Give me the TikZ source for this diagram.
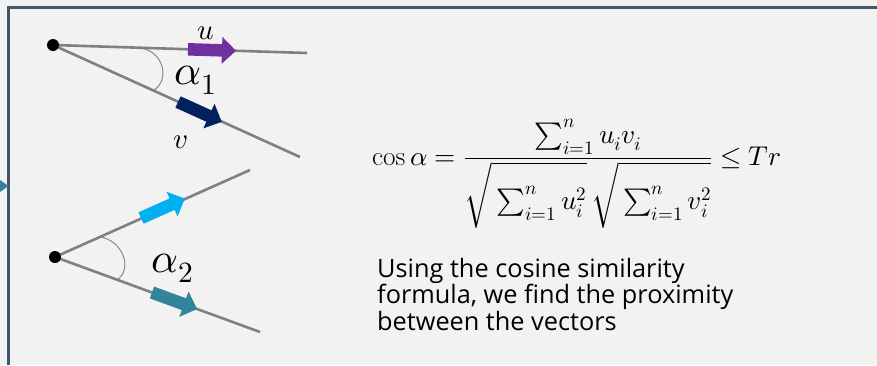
\documentclass[tikz,border=0pt]{standalone}
\usepackage{fontspec}
\usepackage{amsmath}
\usepackage{unicode-math}
\setmathfont{Latin Modern Math}
\newfontfamily\textsans{Open Sans}
\definecolor{bg}{HTML}{F2F2F2}
\definecolor{frame}{HTML}{44546A}
\definecolor{linegray}{HTML}{808080}
\definecolor{upurple}{HTML}{7030A0}
\definecolor{vnavy}{HTML}{002060}
\definecolor{lblue}{HTML}{00B0F0}
\definecolor{teal2}{HTML}{31849B}
\begin{document}
\begin{tikzpicture}[x=1pt,y=-1pt,
  ray/.style={draw=linegray,line width=2.6pt},
  anglearc/.style={draw=linegray,line width=0.9pt},
  dotnode/.style={circle,fill=black,inner sep=0pt,minimum size=12pt},
  veclabel/.style={font=\fontsize{29}{30}\selectfont,inner sep=0pt},
  anglelabel/.style={font=\fontsize{42}{44}\selectfont,inner sep=0pt},
  pics/blockarrow/.style={code={
    \fill[pic actions] (0,-6.25) -- (34,-6.25) -- (34,-13.5) -- (48,0) -- (34,13.5) -- (34,6.25) -- (0,6.25) -- cycle;}}
]
\useasboundingbox (0,0) rectangle (877,365);
\fill[bg] (0,0) rectangle (877,365);
% frame
\draw[frame,line width=2.2pt] (8.5,365) -- (8.5,7.5) -- (877,7.5);
\fill[teal2] (0,180) -- (8.5,186) -- (0,192) -- cycle;

% first pair
\coordinate (o1) at (53,45);
\coordinate (uend) at (307,53);
\coordinate (vend) at (300,157);
\draw[ray] (o1) -- (uend);
\draw[ray] (o1) -- (vend);
\draw[anglearc] (140,48) .. controls (164,51) and (170,80) .. (154,90);
\node[dotnode] (d1) at (o1) {};
\pic[fill=upurple,rotate=-1.8] at (188,49.3) {blockarrow};
\pic[fill=vnavy,rotate=-24.4] at (178,102) {blockarrow};
\node[veclabel] (ul) at (206,33) {$u$};
\node[veclabel] (vl) at (181,142) {$v$};
\node[anglelabel] (a1) at (196,80) {$\alpha_1$};

% second pair
\coordinate (o2) at (55,257);
\coordinate (wend) at (250,170);
\coordinate (zend) at (260,332);
\draw[ray] (o2) -- (wend);
\draw[ray] (o2) -- (zend);
\draw[anglearc] (100,237) .. controls (122,240) and (133,268) .. (118,279);
\node[dotnode] (d2) at (o2) {};
\pic[fill=lblue,rotate=24] at (141,218) {blockarrow};
\pic[fill=teal2,rotate=-20.1] at (152,292.5) {blockarrow};
\node[anglelabel] (a2) at (173,268) {$\alpha_2$};

% formula
\node[inner sep=0pt,anchor=base west,font=\fontsize{27.2}{30}\selectfont] (formula) at (372,165)
  {$\displaystyle \cos\alpha=\frac{\sum_{i=1}^{n}u_iv_i}{\sqrt{\rule[-16pt]{0pt}{58pt}\sum_{i=1}^{n}u_i^2}\,\sqrt{\rule[-16pt]{0pt}{58pt}\sum_{i=1}^{n}v_i^2}}\le Tr$};

% explanation
\node[inner sep=0pt,anchor=north west,align=left,font=\textsans\fontsize{25.3}{26.5}\selectfont] (expl) at (377,258)
  {Using the cosine similarity\\formula, we find the proximity\\between the vectors};
\end{tikzpicture}
\end{document}
